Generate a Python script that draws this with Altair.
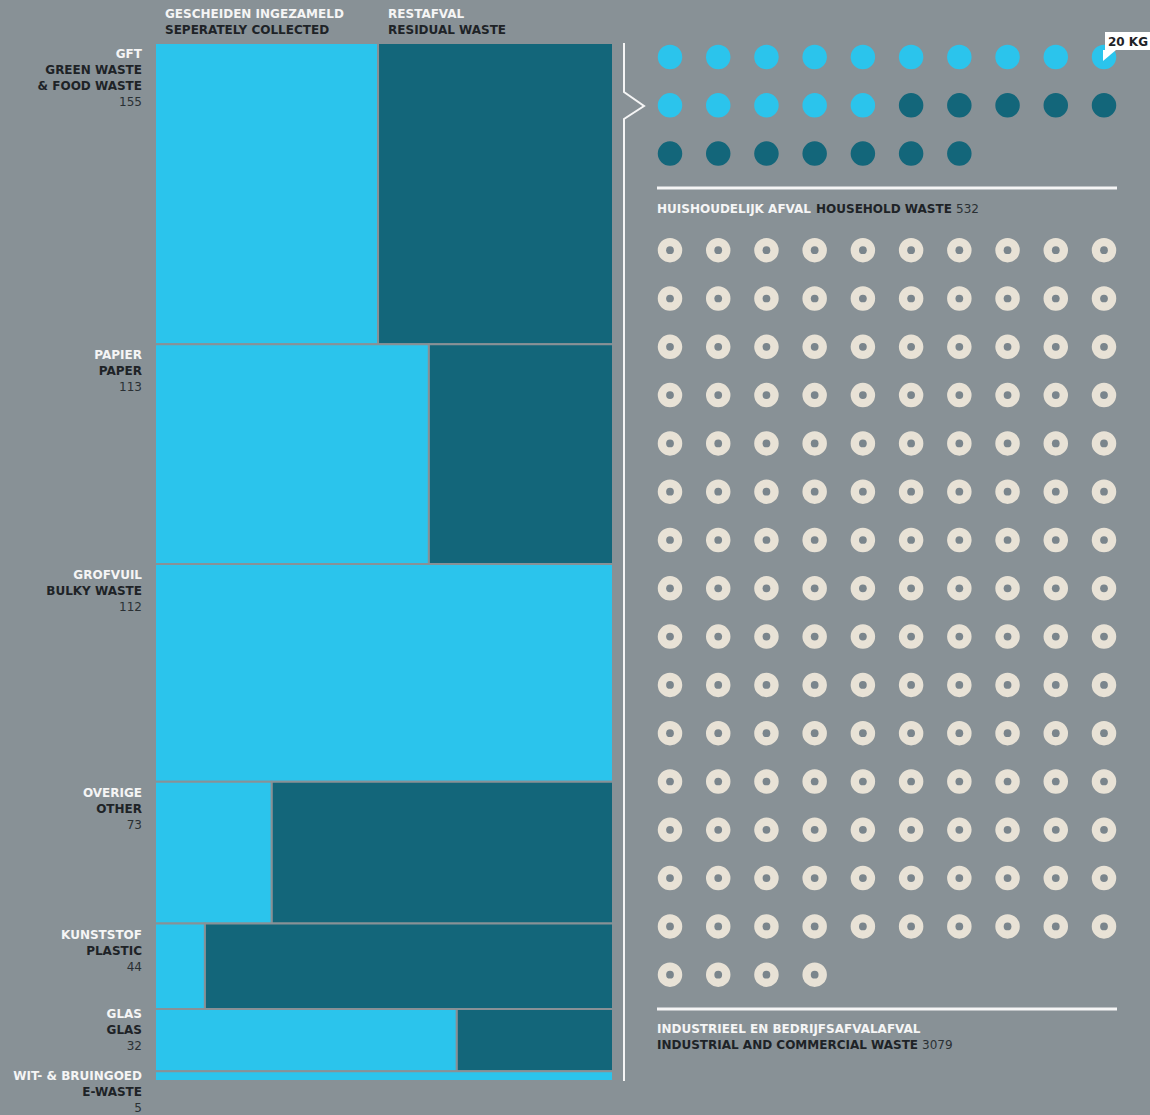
import math
import altair as alt
import pandas as pd

# ---------------- colours / fonts ----------------
BG = "#889196"
LIGHT = "#2bc4ec"
DARK = "#13667a"
CREAM = "#e8e2d6"
HOLE = "#7a858c"
WHITE = "#f5f5f5"
INK = "#1e2327"
INK2 = "#2a3034"
FONT = "DejaVu Sans"
FS = 12

# ---------------- data ----------------
cat_nl = ["GFT", "PAPIER", "GROFVUIL", "OVERIGE", "KUNSTSTOF", "GLAS", "WIT- & BRUINGOED"]
cat_en = [["GREEN WASTE", "& FOOD WASTE"], ["PAPER"], ["BULKY WASTE"], ["OTHER"],
          ["PLASTIC"], ["GLAS"], ["E-WASTE"]]
cat_kg = [155, 113, 112, 73, 44, 32, 5]
sep_share = [0.487, 0.598, 1.0, 0.255, 0.109, 0.659, 1.0]   # share separately collected

header_nl = ["GESCHEIDEN INGEZAMELD", "RESTAFVAL"]
header_en = ["SEPERATELY COLLECTED", "RESIDUAL WASTE"]

household_nl = "HUISHOUDELIJK AFVAL"
household_en = "HOUSEHOLD WASTE"
household_total = 532
industrial_nl = "INDUSTRIEEL EN BEDRIJFSAFVALAFVAL"
industrial_en = "INDUSTRIAL AND COMMERCIAL WASTE"
industrial_total = 3079
kg_per_dot = 20
dots_per_row = 10
unit_label = "20 KG"

# ---------------- derived tables ----------------
total_kg = sum(cat_kg)
Y0, Y1 = 43, 1081
px_per_kg = (Y1 - Y0) / total_kg

rects, labels = [], []
start = 0
for nl, en, kg, sh in zip(cat_nl, cat_en, cat_kg, sep_share):
    end = start + kg
    rects.append(dict(cat=nl, part="sep", x0=0.0, x1=sh, y0=start, y1=end))
    if sh < 1:
        rects.append(dict(cat=nl, part="rest", x0=sh, x1=1.0, y0=start, y1=end))
    dy = 11 if kg >= 40 else 5
    lines = [(nl, "nl")] + [(t, "en") for t in en] + [(str(kg), "num")]
    for i, (t, s) in enumerate(lines):
        labels.append(dict(text=t, style=s, y=start + (dy + 16 * i) / px_per_kg))
    start = end
rects = pd.DataFrame(rects)
labels = pd.DataFrame(labels)

sep_kg = sum(k * s for k, s in zip(cat_kg, sep_share))
n_house = round(household_total / kg_per_dot)
n_sep = round(sep_kg / kg_per_dot)
house_rows = math.ceil(n_house / dots_per_row)
blue = pd.DataFrame([dict(col=i % dots_per_row, row=i // dots_per_row,
                          part="sep" if i < n_sep else "rest") for i in range(n_house)])
n_ind = round(industrial_total / kg_per_dot)
cream = pd.DataFrame([dict(col=i % dots_per_row, row=house_rows + 1 + i // dots_per_row)
                      for i in range(n_ind)])
max_row = int(cream["row"].max())

# ---------------- scales ----------------
xs_m = alt.Scale(domain=[0, 1], range=[155, 613])
ys_m = alt.Scale(domain=[0, total_kg], range=[Y0, Y1])
xs_d = alt.Scale(domain=[0, dots_per_row - 1], range=[670, 1104])
ys_d = alt.Scale(domain=[0, max_row], range=[57, 57 + 48.3 * max_row])
color = alt.Color("part:N", scale=alt.Scale(domain=["sep", "rest"], range=[LIGHT, DARK]), legend=None)

# ---------------- mosaic ----------------
mosaic = alt.Chart(rects).mark_rect(stroke=BG, strokeWidth=2).encode(
    x=alt.X("x0:Q", scale=xs_m, axis=None), x2="x1:Q",
    y=alt.Y("y0:Q", scale=ys_m, axis=None), y2="y1:Q",
    color=color,
)

def label_layer(style, col, weight):
    return alt.Chart(labels).transform_filter(alt.datum.style == style).mark_text(
        align="right", baseline="middle", font=FONT, fontSize=FS, fontWeight=weight, color=col
    ).encode(x=alt.value(142), y=alt.Y("y:Q", scale=ys_m, axis=None), text="text:N")

lab_nl = label_layer("nl", WHITE, "bold")
lab_en = label_layer("en", INK, "bold")
lab_num = label_layer("num", INK2, "normal")

hdr = pd.DataFrame(dict(x=[0.0, sep_share[0]], nl=header_nl, en=header_en))
hdr_nl = alt.Chart(hdr).mark_text(align="left", baseline="middle", font=FONT, fontSize=FS,
                                  fontWeight="bold", color=WHITE, dx=10).encode(
    x=alt.X("x:Q", scale=xs_m, axis=None), y=alt.value(14), text="nl:N")
hdr_en = alt.Chart(hdr).mark_text(align="left", baseline="middle", font=FONT, fontSize=FS,
                                  fontWeight="bold", color=INK, dx=10).encode(
    x=alt.X("x:Q", scale=xs_m, axis=None), y=alt.value(30), text="en:N")

# ---------------- bracket ----------------
bracket = pd.DataFrame(dict(o=[0, 1, 2, 3, 4], px=[624, 624, 644, 624, 624],
                            py=[Y0, 92, 106, 119, Y1]))
bracket_line = alt.Chart(bracket).mark_line(color=WHITE, strokeWidth=2).encode(
    x=alt.X("px:Q", scale=None, axis=None), y=alt.Y("py:Q", scale=None, axis=None), order="o:Q")

# ---------------- dots ----------------
blue_dots = alt.Chart(blue).mark_circle(size=600, opacity=1).encode(
    x=alt.X("col:Q", scale=xs_d, axis=None), y=alt.Y("row:Q", scale=ys_d, axis=None), color=color)
cream_dots = alt.Chart(cream).mark_circle(size=600, opacity=1, color=CREAM).encode(
    x=alt.X("col:Q", scale=xs_d, axis=None), y=alt.Y("row:Q", scale=ys_d, axis=None))
cream_holes = alt.Chart(cream).mark_circle(size=60, opacity=1, color=HOLE).encode(
    x=alt.X("col:Q", scale=xs_d, axis=None), y=alt.Y("row:Q", scale=ys_d, axis=None))

# ---------------- section rules and titles ----------------
rule1 = alt.Chart(pd.DataFrame({"a": [0]})).mark_rule(color=WHITE, strokeWidth=3).encode(
    x=alt.value(657), x2=alt.value(1117), y=alt.value(188))
rule2 = alt.Chart(pd.DataFrame({"a": [0]})).mark_rule(color=WHITE, strokeWidth=3).encode(
    x=alt.value(657), x2=alt.value(1117), y=alt.value(1009))

def txt(text, x, y, col, weight="bold", align="left"):
    return alt.Chart(pd.DataFrame({"t": [text]})).mark_text(
        align=align, baseline="middle", font=FONT, fontSize=FS, fontWeight=weight, color=col
    ).encode(x=alt.value(x), y=alt.value(y), text="t:N")

t_h1 = txt(household_nl, 657, 209, WHITE)
t_h2 = txt(household_en, 816, 209, INK)
t_h3 = txt(str(household_total), 956, 209, INK2, "normal")
t_i1 = txt(industrial_nl, 657, 1029, WHITE)
t_i2 = txt(industrial_en, 657, 1045, INK)
t_i3 = txt(str(industrial_total), 922, 1045, INK2, "normal")

# ---------------- 20 KG tag ----------------
tag_box = alt.Chart(pd.DataFrame({"a": [0]})).mark_rect(color="#ffffff").encode(
    x=alt.value(1105), x2=alt.value(1152), y=alt.value(32), y2=alt.value(50))
tag_ptr = alt.Chart(pd.DataFrame(dict(px=[1103, 1116], py=[50, 50], py2=[61, 50]))).mark_area(
    color="#ffffff").encode(x=alt.X("px:Q", scale=None, axis=None),
                            y=alt.Y("py:Q", scale=None, axis=None), y2="py2:Q")
tag_txt = txt(unit_label, 1128, 42, INK, "bold", "center")

chart = alt.layer(
    mosaic, lab_nl, lab_en, lab_num, hdr_nl, hdr_en, bracket_line,
    blue_dots, cream_dots, cream_holes, rule1, rule2,
    t_h1, t_h2, t_h3, t_i1, t_i2, t_i3, tag_box, tag_ptr, tag_txt,
).resolve_scale(x="independent", y="independent").properties(
    width=1150, height=1115, autosize=alt.AutoSizeParams(type="none"), padding=0,
    background=BG,
).configure_view(stroke=None)

chart.save("out.html", embed_options={
    "renderer": "svg", "actions": False,
    "defaultStyle": "body{margin:0;padding:0;overflow:hidden;background:#889196}",
})
